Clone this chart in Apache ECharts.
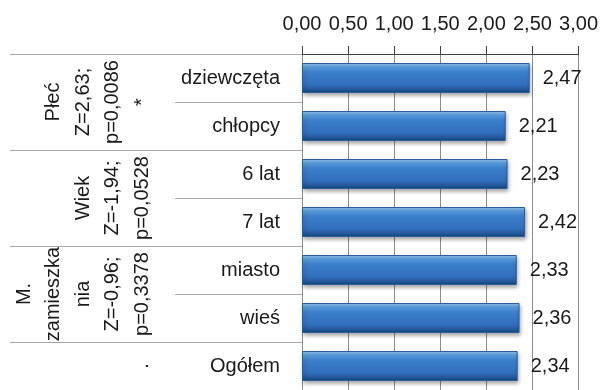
<!DOCTYPE html>
<html>
<head>
<meta charset="utf-8">
<script src="https://cdn.jsdelivr.net/npm/echarts@6/dist/echarts.min.js"></script>
<style>
  html, body { margin: 0; padding: 0; background: #fff; }
  #chart { width: 601px; height: 390px; }
</style>
</head>
<body>
<div id="chart"></div>
<script>
// Row categories (top to bottom) and mean scores
const categories = ['dziewczęta', 'chłopcy', '6 lat', '7 lat', 'miasto', 'wieś', 'Ogółem'];
const values = [2.47, 2.21, 2.23, 2.42, 2.33, 2.36, 2.34];

// Grouping of rows: label text, first row index, last row index
const groupLabels = ['Płeć\nZ=2,63;\np=0,0086\n*', 'Wiek\nZ=-1,94;\np=0,0528', 'M.\nzamieszka\nnia\nZ=-0,96;\np=0,3378', '.'];
const groupFirst = [0, 2, 4, 6];
const groupLast = [1, 3, 5, 6];

// Value axis range
const axisMin = 0, axisMax = 3, axisStep = 0.5;

const FONT = '"Liberation Sans", Arial, sans-serif';
const FS = 20;
const TEXT = '#1a1a1a';
const fmt = v => v.toFixed(2).replace('.', ',');

const chart = echarts.init(document.getElementById('chart'), null, { renderer: 'canvas' });

chart.setOption({
  animation: false,
  grid: { left: 302, right: 22, top: 54, bottom: 0, containLabel: false },
  xAxis: {
    type: 'value', position: 'top', min: axisMin, max: axisMax, interval: axisStep,
    axisLine: { show: true, lineStyle: { color: '#404040', width: 1 } },
    axisTick: { show: true, length: 8, lineStyle: { color: '#404040' } },
    axisLabel: { formatter: v => fmt(v), fontFamily: FONT, fontSize: FS, color: TEXT, margin: 20 },
    splitLine: { show: true, lineStyle: { color: '#8c8c8c', width: 1 } }
  },
  yAxis: [{
    type: 'category', data: categories, inverse: true,
    axisLine: { show: true, lineStyle: { color: '#8c8c8c' } },
    axisTick: { show: true, length: 127, lineStyle: { color: '#a6a6a6' } },
    axisLabel: { fontFamily: FONT, fontSize: FS, color: TEXT, margin: 22 }
  }, {
    // group separators: long ticks at group boundaries
    type: 'category', data: categories, inverse: true, position: 'left',
    axisLine: { show: false },
    axisLabel: { show: false },
    axisTick: { show: true, length: 292, interval: (i) => groupFirst.indexOf(i) >= 0, lineStyle: { color: '#a6a6a6' } }
  }],
  series: [{
    type: 'bar', data: values, barWidth: 30, yAxisIndex: 0,
    itemStyle: {
      color: new echarts.graphic.LinearGradient(0, 0, 0, 1, [
        { offset: 0, color: '#9ccdf2' },
        { offset: 0.14, color: '#599edf' },
        { offset: 0.3, color: '#3b80cc' },
        { offset: 0.72, color: '#306fbc' },
        { offset: 0.88, color: '#24599c' },
        { offset: 1, color: '#1a4278' }
      ]),
      borderColor: '#2a5d9c', borderWidth: 1,
      shadowColor: 'rgba(0,0,0,0.35)', shadowBlur: 4, shadowOffsetY: 2, shadowOffsetX: 1
    },
    label: {
      show: true, position: 'right', distance: 13, formatter: p => fmt(p.value),
      fontFamily: FONT, fontSize: FS, color: TEXT
    }
  }]
});

// Group captions, rotated, centred over the rows they cover
const groupText = groupLabels.map((txt, g) => {
  const y0 = chart.convertToPixel({ yAxisIndex: 0 }, categories[groupFirst[g]]);
  const y1 = chart.convertToPixel({ yAxisIndex: 0 }, categories[groupLast[g]]);
  return {
    type: 'text', x: 157, y: (y0 + y1) / 2, rotation: Math.PI / 2,
    style: {
      text: txt, fill: TEXT, fontFamily: FONT, fontSize: FS,
      align: 'center', verticalAlign: 'bottom', lineHeight: 29.5
    }
  };
});
chart.setOption({ graphic: groupText });
</script>
</body>
</html>
